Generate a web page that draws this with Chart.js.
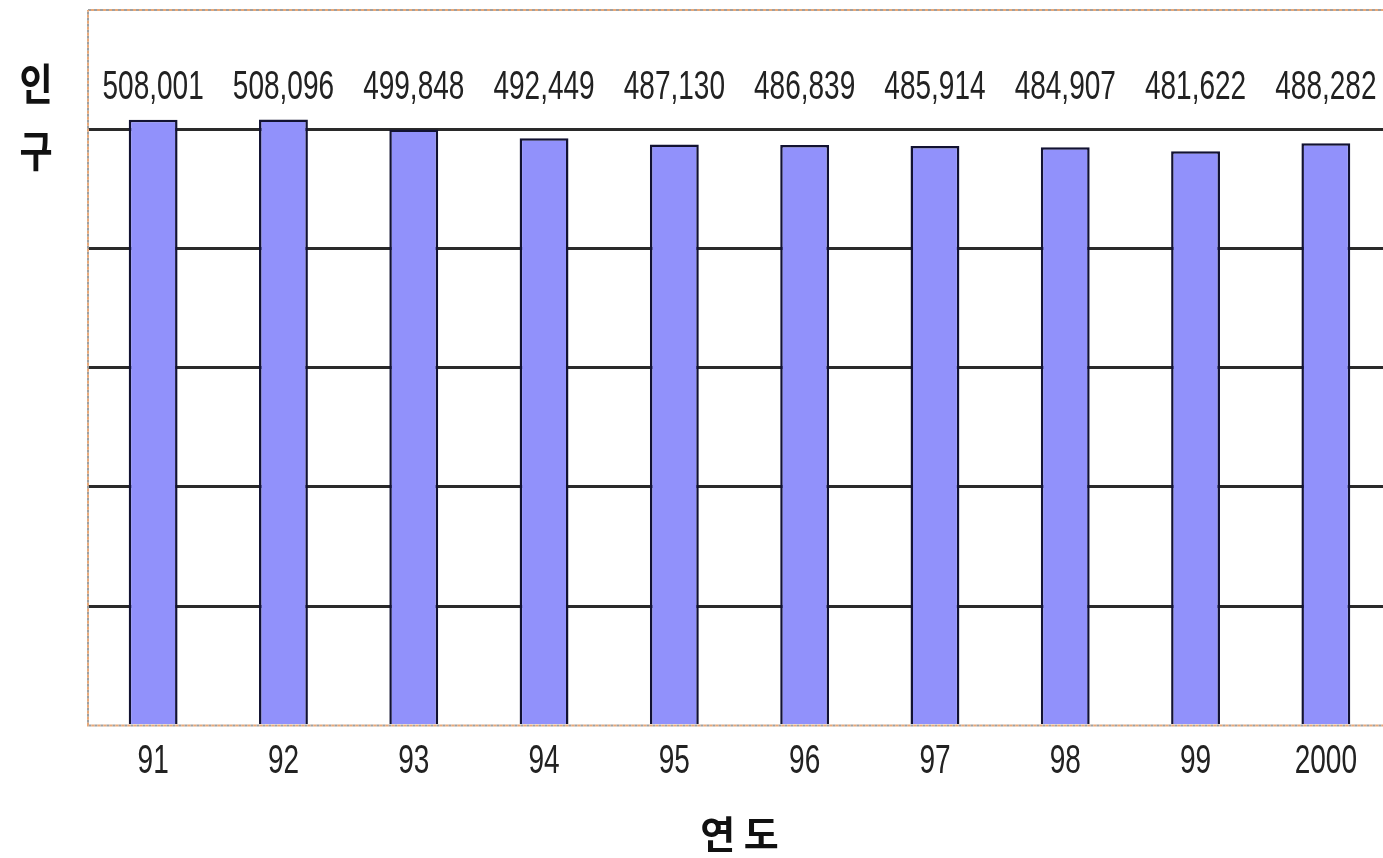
<!DOCTYPE html>
<html>
<head>
<meta charset="utf-8">
<script src="https://cdn.jsdelivr.net/npm/chart.js@4"></script>
<style>
  html, body { margin: 0; padding: 0; overflow: hidden; background: #fff; }
  #wrap { width: 1394px; height: 858px; }
</style>
</head>
<body>
<div id="wrap"><canvas id="popChart"></canvas></div>
<script>
// 연도별 인구
const years = ['91', '92', '93', '94', '95', '96', '97', '98', '99', '2000'];
const population = [508001, 508096, 499848, 492449, 487130, 486839, 485914, 484907, 481622, 488282];
const yMin = 0;
const yMax = 600000;
const yStep = 100000;
const yTitle = ['인', '구'];
const xTitle = '연 도';

const numFont = "'Liberation Sans', Arial, sans-serif";
const korFont = "'Noto Sans CJK KR', sans-serif";

// 좁은 글씨 (가로로 눌러서 그림)
function narrowText(ctx, text, x, y, size, squeeze) {
    ctx.save();
    ctx.translate(x, y);
    ctx.scale(squeeze, 1);
    ctx.font = size + 'px ' + numFont;
    ctx.fillStyle = '#222';
    ctx.textAlign = 'center';
    ctx.textBaseline = 'middle';
    ctx.fillText(text, 0, 0);
    ctx.restore();
}

// 플롯 영역 점선 테두리
const framePlugin = {
    id: 'frame',
    beforeDatasetsDraw(chart) {
        const a = chart.chartArea;
        const ctx = chart.ctx;
        ctx.save();
        ctx.lineWidth = 2;
        ctx.setLineDash([3, 3]);
        ctx.strokeStyle = '#a0a0a0';
        ctx.strokeRect(a.left, a.top, a.right - a.left, a.bottom - a.top);
        ctx.lineDashOffset = 3;
        ctx.strokeStyle = '#e8a878';
        ctx.strokeRect(a.left, a.top, a.right - a.left, a.bottom - a.top);
        ctx.restore();
    }
};

// 막대 위 값 (모두 같은 높이) + x축 눈금 글씨
const textPlugin = {
    id: 'texts',
    afterDatasetsDraw(chart) {
        const ctx = chart.ctx;
        const yScale = chart.scales.y;
        const xScale = chart.scales.x;
        const labelY = yScale.getPixelForValue(535000);
        const meta = chart.getDatasetMeta(0);
        meta.data.forEach((bar, i) => {
            narrowText(ctx, population[i].toLocaleString('en-US'), bar.x, labelY, 40, 0.7);
        });
        years.forEach((yr, i) => {
            narrowText(ctx, yr, xScale.getPixelForTick(i), chart.chartArea.bottom + 37, 40, 0.7);
        });
    },
    afterDraw(chart) {
        const ctx = chart.ctx;
        const a = chart.chartArea;
        ctx.save();
        ctx.font = 'bold 36px ' + korFont;
        ctx.fillStyle = '#111';
        ctx.textAlign = 'center';
        ctx.textBaseline = 'middle';
        yTitle.forEach((ch, i) => {
            ctx.save();
            ctx.translate(a.left - 52, a.top + 74 + i * 67);
            ctx.scale(1, 1.2);
            ctx.fillText(ch, 0, 0);
            ctx.restore();
        });
        ctx.restore();
    }
};

const ctx = document.getElementById('popChart').getContext('2d');

new Chart(ctx, {
    type: 'bar',
    data: {
        labels: years,
        datasets: [{
            label: '인구',
            data: population,
            backgroundColor: '#9191fb',
            borderColor: '#121232',
            borderWidth: 2.5,
            categoryPercentage: 1,
            barPercentage: 0.375
        }]
    },
    options: {
        responsive: true,
        maintainAspectRatio: false,
        animation: false,
        layout: { padding: { left: 88, top: 10, right: 3, bottom: 0 } },
        plugins: {
            legend: { display: false },
            tooltip: { enabled: false }
        },
        scales: {
            x: {
                grid: { display: false, drawTicks: false },
                border: { display: false },
                ticks: {
                    color: 'rgba(0,0,0,0)',
                    font: { family: numFont, size: 30 },
                    padding: 18
                },
                title: {
                    display: true,
                    text: xTitle,
                    color: '#111',
                    font: { family: korFont, size: 38, weight: 'bold' },
                    padding: { top: 13, bottom: 2 }
                }
            },
            y: {
                min: yMin,
                max: yMax,
                ticks: { display: false, stepSize: yStep },
                border: { display: false },
                grid: {
                    drawTicks: false,
                    lineWidth: 3,
                    color: c => (c.tick.value === yMin || c.tick.value === yMax) ? 'rgba(0,0,0,0)' : '#2a2a2a'
                }
            }
        }
    },
    plugins: [framePlugin, textPlugin]
});
</script>
</body>
</html>
